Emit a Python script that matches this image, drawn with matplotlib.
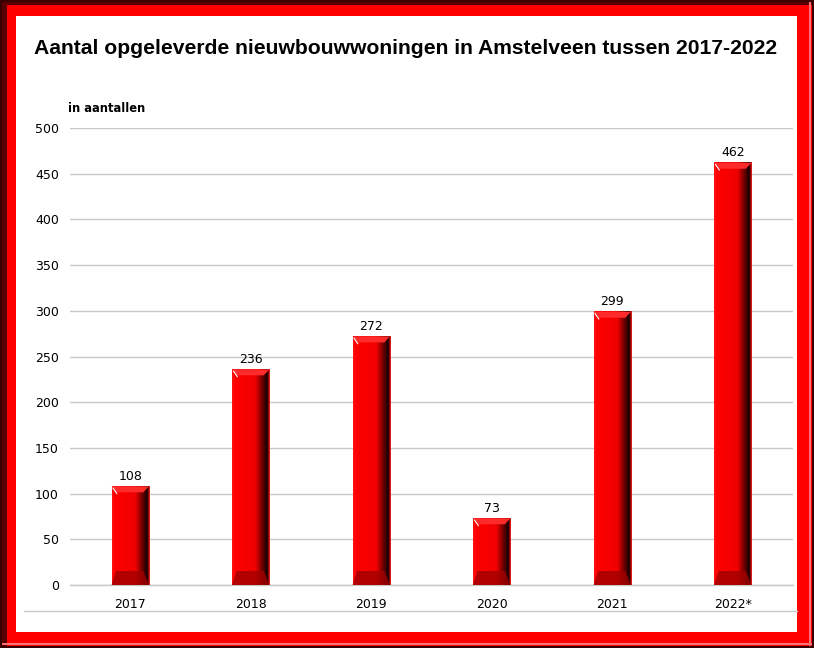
import matplotlib.pyplot as plt
import matplotlib.patches as mpatches
import numpy as np
from matplotlib.colors import LinearSegmentedColormap

years = ['2017', '2018', '2019', '2020', '2021', '2022*']
values = [108, 236, 272, 73, 299, 462]

fig = plt.figure(figsize=(8.14, 6.48), dpi=100)
W, H = 814, 648

def frect(x0, y0, w, h, color):
    # rectangle in pixel coords (top-left origin), drawn behind the axes
    fig.patches.append(mpatches.Rectangle((x0 / W, 1 - (y0 + h) / H), w / W, h / H,
                                          transform=fig.transFigure, color=color,
                                          zorder=-10, lw=0))

# frame
frect(0, 0, W, H, '#3a0000')
frect(2, 2, W - 4, H - 4, '#ff0000')
frect(2, 2, 5, H - 4, '#5a0000')
frect(2, 2, W - 4, 3, '#5a0000')
frect(2, H - 5, W - 4, 2, '#ff7070')
frect(W - 5, 2, 2, H - 4, '#ff7070')
frect(16, 16, W - 16 - 17, H - 16 - 16, '#ffffff')

ax = fig.add_axes([70 / W, 1 - 585 / H, (793 - 70) / W, (585 - 128) / H])
ax.set_facecolor('none')
ax.set_xlim(-0.5, 5.5)
ax.set_ylim(0, 500)
ax.set_yticks(range(0, 501, 50))
ax.yaxis.grid(True, color='#c8c8c8', lw=1)
ax.axhline(0, color='#c8c8c8', lw=1, clip_on=False, zorder=1)
ax.set_axisbelow(True)
for s in ax.spines.values():
    s.set_visible(False)
ax.tick_params(length=0, labelsize=9, pad=8)
ax.tick_params(axis='x', pad=9)
ax.set_xticks(range(len(years)))
ax.set_xticklabels(years)

bw = 0.31
cmap = LinearSegmentedColormap.from_list(
    'bar', [(0, '#ff1010'), (0.08, '#ff0000'), (0.62, '#f00000'),
            (0.8, '#700000'), (0.93, '#150000'), (0.96, '#600000'), (1, '#ff2020')])
grad = np.linspace(0, 1, 96)
for i, v in enumerate(values):
    x0 = i - bw / 2
    # body with right-side shading
    ax.imshow(grad[np.newaxis, :], cmap=cmap, aspect='auto',
              extent=(x0, x0 + bw, 0, v), zorder=3, interpolation='bilinear')
    # bottom bevel
    bh = 500 * 14 / 457
    poly = mpatches.Polygon([(x0, 0), (x0 + bw, 0), (x0 + bw * 0.85, bh), (x0 + bw * 0.12, bh)],
                            closed=True, color='#a00000', alpha=0.8, lw=0, zorder=4)
    ax.add_patch(poly)
    # top bevel highlight
    th = 500 * 6 / 457
    top = mpatches.Polygon([(x0, v), (x0 + bw, v), (x0 + bw * 0.85, v - th), (x0 + bw * 0.12, v - th)],
                           closed=True, color='#ff2a2a', lw=0, zorder=4)
    ax.add_patch(top)
    ax.plot([x0 + bw * 0.04, x0 + bw * 0.14], [v - 2, v - 8], color='white', lw=0.8, zorder=5)
    ax.text(i, v + 4, str(v), ha='center', va='bottom', fontsize=9, zorder=6)

ax.set_xlim(-0.5, 5.5)
ax.set_ylim(0, 500)

fig.text(34 / W, 1 - 48 / H, 'Aantal opgeleverde nieuwbouwwoningen in Amstelveen tussen 2017-2022',
         fontsize=15.2, fontweight='bold', family='Liberation Sans', va='center', ha='left')
fig.text(68 / W, 1 - 108 / H, 'in aantallen', fontsize=8.3, fontweight='bold', va='center', ha='left')

fig.lines.append(plt.Line2D([24 / W, 797 / W], [1 - 611 / H, 1 - 611 / H],
                            transform=fig.transFigure, color='#c8c8c8', lw=1))

fig.savefig('out.png', dpi=100)
